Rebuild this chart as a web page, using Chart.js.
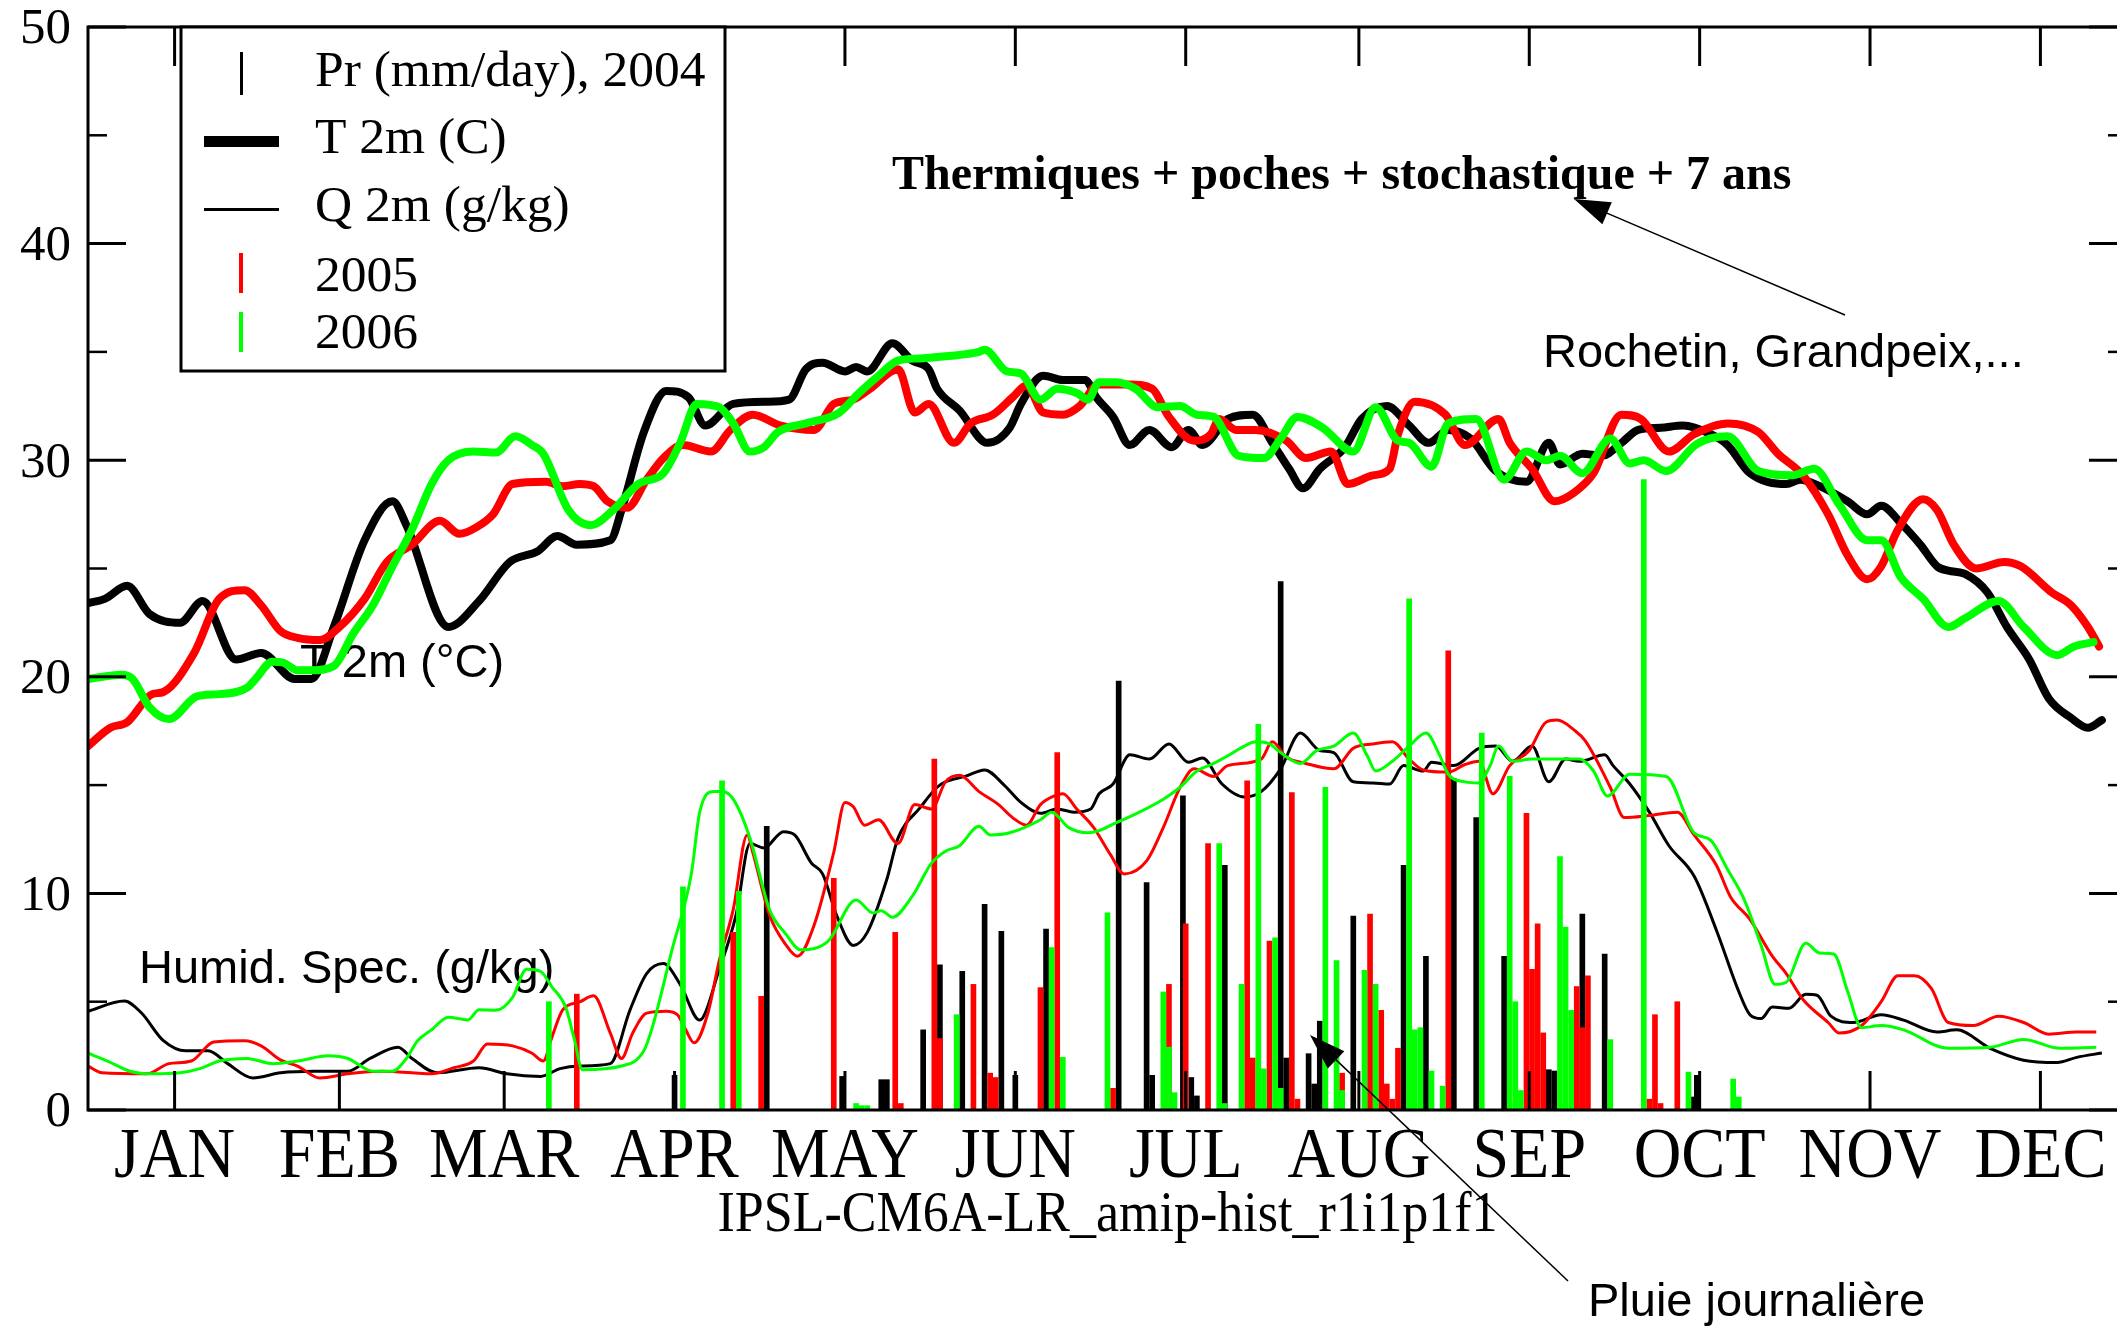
<!DOCTYPE html>
<html>
<head>
<meta charset="utf-8">
<script src="https://cdn.jsdelivr.net/npm/chart.js@4.4.1/dist/chart.umd.min.js"></script>
<style>
  html, body { margin: 0; padding: 0; background: #fff; overflow: hidden; }
  #wrap { width: 2130px; height: 1330px; }
</style>
</head>
<body>
<div id="wrap"><canvas id="c" width="2130" height="1330"></canvas></div>
<script>
// day-of-year axis, ticks at mid month
const months = ['JAN', 'FEB', 'MAR', 'APR', 'MAY', 'JUN', 'JUL', 'AUG', 'SEP', 'OCT', 'NOV', 'DEC'];
const monthMid = [15.5, 45, 74.5, 105, 135.5, 166, 196.5, 227.5, 258, 288.5, 319, 349.5];
const yLabels = [0, 10, 20, 30, 40, 50];

// 2m temperature (C), [day, value]
const t2004 = [[0,23.4],[3,23.6],[7,24.2],[11,22.9],[16.5,22.5],[20.5,23.5],[26.5,20.8],[31,21.1],[37,19.9],[40,19.9],[44,22.3],[49.5,26.3],[54.5,28.1],[57,27.0],[64.5,22.3],[70,23.5],[75.5,25.3],[80.5,25.8],[84,26.5],[87.5,26.1],[93.5,26.3],[95.5,27.7],[99.5,31.3],[103.5,33.2],[107.5,32.9],[110.5,31.6],[115.5,32.6],[121.5,32.7],[125.5,32.8],[128.5,34.2],[131.5,34.5],[135.5,34.1],[137.5,34.3],[139.5,34.1],[144,35.4],[147.5,34.6],[150.5,34.2],[152,33.3],[156,32.3],[161,30.8],[165,31.5],[167,32.6],[171,33.9],[174.5,33.7],[178.5,33.7],[180.5,32.9],[183.5,32.0],[186.5,30.7],[190,31.4],[194,30.6],[197,31.4],[199.5,30.7],[204,31.9],[208.5,32.1],[212,30.8],[215,29.6],[217.5,28.7],[220.5,29.6],[225,30.6],[228,31.9],[232.5,32.5],[236.5,31.6],[240,30.8],[243.5,31.4],[247.5,31.0],[252,29.5],[257.5,29.0],[261.5,30.8],[263.5,29.8],[267.5,30.3],[271,30.2],[274.5,30.8],[277.5,31.4],[281.5,31.5],[285.5,31.6],[290.5,31.2],[293.5,30.7],[297.5,29.4],[304,28.9],[306.5,29.1],[310,28.8],[315,28.1],[318.5,27.5],[321,27.9],[324.5,27.1],[328,26.1],[331,25.1],[333,24.9],[336,24.75],[340,23.9],[343.5,22.3],[347.5,20.8],[351,19.0],[355,18.1],[358,17.65],[360.5,18.0]];
const t2005 = [[0,16.8],[4,17.65],[7,17.9],[11.5,19.2],[13.5,19.3],[19,21.1],[23.5,23.6],[28,24.0],[31,23.3],[34.5,22.1],[37.5,21.8],[41.5,21.7],[45,22.3],[49.5,23.6],[53.5,25.3],[58,26.1],[63,27.2],[66.5,26.6],[69.5,26.9],[72.5,27.5],[76,28.9],[82,29.0],[85,28.8],[88,28.9],[90.5,28.8],[93,28.1],[96.5,27.8],[100,29.1],[103,30.1],[106.5,30.7],[111.5,30.4],[115,31.4],[119,32.1],[124,31.6],[130,31.4],[133.5,32.6],[137,32.8],[140,33.3],[145,34.2],[148,32.2],[150.5,32.6],[155,30.8],[158,31.7],[162,32.1],[165.5,32.9],[168,33.45],[171,32.2],[174.5,32.1],[177.5,32.5],[181,33.5],[186.5,33.5],[190.5,33.3],[193.5,32.0],[198,30.9],[201,31.2],[202.5,31.9],[205.5,31.4],[209,31.4],[214.5,30.9],[218,30.1],[222.5,30.4],[225.5,28.9],[230,29.3],[233,29.6],[234.5,31.2],[237.5,32.7],[243,32.1],[246.5,30.7],[252.5,31.9],[254.5,30.8],[258.5,29.6],[262.5,28.1],[266,28.5],[269.5,29.4],[274.5,32.1],[278,31.9],[283,30.4],[287.5,31.2],[293.5,31.7],[299,31.3],[302.5,30.3],[307,29.3],[311.5,27.5],[315,25.6],[318.5,24.5],[321,25.1],[324,26.8],[328.5,28.2],[331,27.7],[334,26.1],[338,25.0],[343,25.3],[346,25.1],[351.5,23.9],[355,23.3],[358,22.3],[360,21.4]];
const t2006 = [[0,19.9],[6,20.1],[8,19.9],[11,18.6],[14.5,18.05],[19.5,19.1],[23.5,19.2],[28.5,19.5],[30,19.9],[33,20.7],[35,20.65],[37.5,20.3],[40,20.3],[44,20.5],[47.5,22.0],[51,23.3],[54.5,25.1],[58,26.8],[61.5,28.9],[64.5,30.0],[69,30.4],[73,30.35],[76.5,31.1],[79.5,30.7],[81.5,30.3],[86,27.7],[90,27.0],[94,27.7],[98.5,28.9],[103,29.4],[106,30.8],[109,32.6],[113,32.45],[115.5,31.7],[118.5,30.4],[121,30.6],[123.5,31.3],[128.5,31.7],[134.5,32.2],[138,33.1],[141.5,33.9],[145,34.6],[149,34.7],[153.5,34.8],[159.5,35.0],[160.5,35.1],[164.5,34.1],[167,34.0],[170.5,32.8],[173.5,33.3],[177,33.1],[179,32.8],[181,33.6],[184,33.6],[187.5,33.3],[191.5,32.45],[195.5,32.5],[198.5,32.1],[201.5,32.0],[206,30.2],[210.5,30.1],[213.5,31.0],[216.5,32.0],[221,31.5],[226.5,30.4],[230.5,32.45],[234.5,30.9],[236.5,30.8],[240.5,29.7],[243.5,31.7],[248.5,31.9],[253.5,29.1],[257.5,30.4],[261,30.0],[263.5,30.2],[267.5,29.4],[272.5,31.0],[276,29.85],[278.5,30.0],[282.5,29.5],[288,30.75],[293.5,31.1],[299,29.5],[305,29.3],[309,29.6],[313.5,27.95],[318.5,26.3],[321,26.3],[324.5,24.6],[328.5,23.6],[333,22.3],[336,22.7],[342,23.5],[346.5,22.3],[352.5,21.0],[355.5,21.4],[359,21.6]];

// 2m specific humidity (g/kg), [day, value]
const q2004 = [[0,4.56],[6.5,5.03],[9.5,4.5],[13.5,3.2],[17.5,2.73],[21.5,2.73],[25,2.14],[29.5,1.48],[34.5,1.72],[40.5,1.79],[46.5,1.79],[50.5,2.38],[55.5,2.9],[58,2.38],[62.5,1.72],[70,1.95],[75,1.67],[81,1.55],[84.5,1.91],[88,2.03],[93.5,2.14],[97,4.6],[100,6.3],[103,6.76],[106,5.8],[109.5,4.15],[113,6.5],[116,9.0],[118.5,12.3],[121,12.1],[124.5,12.85],[126.5,12.7],[129.5,11.4],[131.5,10.9],[134,9.0],[137,7.6],[139.5,8.2],[143,10.65],[145,12.55],[149,13.97],[152,14.9],[153.5,15.15],[157,15.4],[160.5,15.7],[164,15.0],[167,14.2],[170.5,13.7],[173.5,13.9],[176.5,13.75],[179.5,13.9],[181,14.6],[183.5,15.05],[186.5,16.4],[190,16.2],[193.5,16.9],[197,16.05],[199.5,16.25],[203,15.05],[207,14.45],[210,14.7],[213.5,15.75],[217,17.4],[220.5,16.6],[223,16.5],[226.5,15.15],[230,15.1],[233,15.05],[235.5,15.9],[239,15.65],[240.5,16.05],[244.5,15.9],[249,16.7],[252,16.8],[255,16.1],[258.5,16.8],[261.5,15.15],[264.5,16.2],[267,16.1],[271.5,16.4],[273,15.9],[276,15.05],[279.5,13.75],[283,12.2],[287.5,10.8],[291.5,8.3],[295.5,5.47],[297.5,4.4],[299.5,4.22],[301.5,4.75],[304.5,4.7],[307.5,5.34],[309.5,5.3],[312,4.33],[316,4.04],[321,4.4],[325,4.15],[331,3.6],[334.5,3.7],[340.5,2.85],[346.5,2.3],[352.5,2.19],[356,2.43],[360.5,2.63]];
const q2005 = [[0,2.03],[2.5,1.72],[10.5,1.67],[14.5,2.14],[18.5,2.26],[22.5,3.14],[28,3.2],[31,2.96],[34.5,2.3],[37.5,2.03],[41.5,1.48],[46.5,1.67],[52.5,1.79],[58,1.72],[61.5,1.67],[65.5,1.95],[69,2.26],[71.5,3.05],[76,2.96],[79.5,2.62],[81.5,2.26],[83,3.33],[85,4.63],[88,4.99],[90.5,5.27],[93.5,3.55],[95.5,2.38],[97.5,3.55],[100,4.47],[103.5,4.56],[105.5,4.4],[107,3.7],[108.5,3.1],[111,4.5],[113,6.9],[115.5,9.25],[118,12.7],[119,11.9],[122,9.0],[125,7.6],[127,7.1],[130,8.55],[133.5,11.9],[135.5,14.2],[137,14.0],[139,13.15],[141.5,13.4],[145,12.3],[148,14.1],[151,13.9],[153.5,15.15],[156,15.45],[159.5,14.7],[163,14.1],[165.5,13.5],[168,13.15],[170.5,14.1],[173,14.5],[174.5,14.6],[177,13.9],[180,13.05],[183,11.8],[185.5,10.9],[189.5,11.5],[192.5,13.05],[195.5,14.9],[198,15.75],[201.5,15.4],[204,15.9],[210,16.2],[212,17.0],[214.5,16.3],[218,16.0],[223,15.75],[226.5,16.7],[230,16.9],[233.5,17.0],[236.5,16.2],[239,15.7],[243.5,15.6],[246.5,15.95],[249,16.1],[251.5,14.6],[254.5,15.9],[258,16.6],[261,17.9],[263,18.0],[266,17.55],[268,17.05],[272.5,14.9],[275,13.5],[279.5,13.6],[284.5,13.75],[287.5,12.7],[291.5,11.3],[294,9.85],[297.5,8.8],[301.5,7.1],[304,6.3],[307,5.1],[311.5,4.04],[313.5,3.55],[317.5,3.9],[321,5.0],[324,6.2],[327,6.2],[330,5.6],[333,4.04],[337.5,3.9],[342,4.33],[346.5,4.04],[351,3.5],[356,3.6],[359.5,3.6]];
const q2006 = [[0,2.62],[3.5,2.26],[7.5,1.79],[11.5,1.67],[16.5,1.72],[20,1.91],[23.5,2.26],[28.5,2.38],[33,2.14],[37.5,2.26],[43,2.5],[46.5,2.38],[51,1.79],[54.5,1.79],[57,2.38],[59,3.2],[61.5,3.7],[64.5,4.28],[68,4.16],[70,4.63],[73,4.6],[76,5.2],[78.5,6.5],[81,6.4],[83,5.7],[85.5,4.75],[87,3.33],[88.5,1.86],[95.5,2.03],[99.5,2.73],[101,3.8],[104.5,7.35],[108,10.9],[109.5,13.75],[112,14.7],[113.5,14.7],[115.5,14.35],[118.5,12.55],[122,9.25],[125,8.1],[127.5,7.4],[132.5,7.8],[137.5,9.7],[140.5,9.1],[142,9.2],[144,8.9],[147.5,9.85],[151,11.4],[153.5,11.95],[156,12.2],[159.5,13.1],[161.5,12.7],[165,12.8],[170.5,13.4],[172.5,13.75],[175.5,13.05],[179,12.8],[181,12.9],[183.5,13.2],[187,13.6],[192.5,14.35],[195.5,14.9],[198.5,15.65],[201.5,16.0],[204,16.35],[207,16.8],[209,17.0],[211.5,16.9],[213.5,16.5],[217,16.0],[220,16.6],[223,16.8],[226.5,17.4],[229,16.35],[230.5,15.65],[233.5,16.1],[236.5,16.8],[239.5,17.4],[242,16.35],[243.5,15.5],[246.5,15.15],[249,15.1],[251,15.9],[252.5,16.8],[255,16.1],[258.5,16.2],[263,16.2],[267,16.2],[269.5,15.65],[272,14.5],[276,15.5],[282.5,15.4],[287.5,12.8],[290.5,12.45],[293.5,11.1],[296.5,9.7],[299.5,7.6],[302,5.8],[304,5.9],[307.5,7.7],[310,7.25],[312.5,7.2],[315,5.47],[317.5,3.8],[321,3.9],[325,3.7],[333,2.85],[340.5,2.9],[346.5,3.26],[353,2.85],[359.5,2.9]];

// daily precipitation (mm/day), [day, value]
const pr2004 = [[105,1.6],[121.5,13.1],[135,1.55],[142,1.4],[143,1.4],[149.5,3.7],[152.5,6.7],[156.5,6.4],[160.5,9.5],[163.5,8.25],[166,1.6],[171.5,8.35],[184.5,19.8],[189.5,10.5],[190.5,1.6],[196,14.5],[197.5,1.5],[198.5,0.65],[203.5,11.3],[213.5,24.4],[214.5,2.4],[218.5,2.6],[219.5,1.2],[220.5,4.1],[226.5,8.95],[235.5,11.3],[239.5,7.1],[244.5,15.3],[248.5,13.5],[253.5,7.1],[261.5,1.86],[262.5,1.8],[267.5,9.05],[271.5,7.2],[287,0.6],[288,1.6]];
const pr2005 = [[87.5,5.35],[115.5,8.2],[120.5,5.25],[133.5,10.7],[144.5,8.2],[145.5,0.3],[151.5,16.2],[152.5,3.3],[158.5,5.8],[161.5,1.7],[162.5,1.5],[170.5,5.65],[173.5,16.5],[183.5,1.0],[193.5,5.8],[196.5,8.6],[200.5,12.3],[207.5,15.2],[208.5,2.4],[211.5,7.8],[215.5,14.65],[216.5,0.5],[224.5,1.7],[229.5,9.05],[231.5,4.6],[232.5,1.2],[233.5,0.5],[234.5,2.85],[243.5,21.2],[257.5,13.7],[258.5,6.5],[259.5,8.6],[260.5,3.56],[266.5,5.7],[267.5,3.8],[268.5,6.2],[279.5,0.5],[280.5,4.4],[281.5,0.3],[284.5,5.0]];
const pr2006 = [[82.5,5.0],[106.5,10.3],[113.5,15.2],[116.5,10.1],[137.5,0.3],[138.5,0.2],[139.5,0.2],[155.5,4.4],[172.5,7.5],[174.5,2.43],[182.5,9.1],[192.5,5.45],[193.5,2.9],[194.5,0.8],[202.5,12.3],[203.5,0.3],[206.5,5.8],[209.5,17.8],[210.5,1.9],[212.5,7.95],[213.5,1.0],[221.5,14.9],[223.5,6.9],[224.5,0.9],[228.5,6.45],[230.5,5.8],[236.5,23.6],[237.5,3.7],[238.5,3.8],[240.5,1.8],[242.5,1.1],[249.5,17.4],[254.5,15.4],[255.5,5.0],[256.5,0.9],[263.5,11.7],[264.5,8.45],[265.5,4.6],[272.5,3.25],[278.5,29.1],[286.5,1.75],[294.5,1.43],[295.5,0.6]];

const legendLabels = ['Pr (mm/day), 2004', 'T 2m (C)', 'Q 2m (g/kg)', '2005', '2006'];

const BLACK = '#000000';
const RED = '#ff0000';
const GREEN = '#00ff00';
const SERIF = '"Liberation Serif", "Times New Roman", serif';
const SANS = '"Liberation Sans", Arial, sans-serif';

const xy = arr => arr.map(p => ({ x: p[0], y: p[1] }));

function tempSet(label, data, color, order) {
  return {
    type: 'line', label, data: xy(data), order,
    borderColor: color, borderWidth: 8, pointRadius: 0,
    cubicInterpolationMode: 'monotone',
    borderJoinStyle: 'round', borderCapStyle: 'round', fill: false
  };
}
function humSet(label, data, color, order) {
  return {
    type: 'line', label, data: xy(data), order,
    borderColor: color, borderWidth: 3, pointRadius: 0,
    cubicInterpolationMode: 'monotone', borderJoinStyle: 'round', fill: false
  };
}
function rainSet(label, data, color, order) {
  return {
    type: 'bar', label, data: xy(data), order,
    backgroundColor: color, borderWidth: 0,
    barThickness: 5, grouped: false
  };
}

function line(ctx, x0, y0, x1, y1) {
  ctx.beginPath();
  ctx.moveTo(x0, y0);
  ctx.lineTo(x1, y1);
  ctx.stroke();
}

function arrow(ctx, x0, y0, x1, y1) {
  const ang = Math.atan2(y1 - y0, x1 - x0);
  const len = 36, half = 12;
  ctx.lineWidth = 1.5;
  line(ctx, x0, y0, x1 - Math.cos(ang) * len * 0.8, y1 - Math.sin(ang) * len * 0.8);
  ctx.beginPath();
  ctx.moveTo(x1, y1);
  ctx.lineTo(x1 - Math.cos(ang) * len - Math.sin(ang) * half, y1 - Math.sin(ang) * len + Math.cos(ang) * half);
  ctx.lineTo(x1 - Math.cos(ang) * len + Math.sin(ang) * half, y1 - Math.sin(ang) * len - Math.cos(ang) * half);
  ctx.closePath();
  ctx.fill();
}

function tallText(ctx, text, x, y, font, sy, align) {
  ctx.save();
  ctx.font = font;
  ctx.textAlign = align;
  ctx.textBaseline = 'alphabetic';
  ctx.translate(x, y);
  ctx.scale(1, sy);
  ctx.fillText(text, 0, 0);
  ctx.restore();
}

const decorations = {
  id: 'decorations',
  beforeDatasetsDraw(chart) {
    const ctx = chart.ctx;
    ctx.save();
    ctx.fillStyle = BLACK;
    ctx.font = '47px ' + SANS;
    ctx.textBaseline = 'alphabetic';
    ctx.fillText('T 2m (\u00b0C)', 300, 677);
    ctx.fillText('Humid. Spec. (g/kg)', 139, 983);
    ctx.restore();
  },
  afterDatasetsDraw(chart) {
    const { ctx, chartArea: a } = chart;
    const sx = chart.scales.x, sy = chart.scales.y;
    ctx.save();
    ctx.strokeStyle = BLACK;
    ctx.fillStyle = BLACK;
    ctx.lineWidth = 3;
    ctx.strokeRect(a.left, a.top, a.right - a.left, a.bottom - a.top);

    // inward ticks on all four sides
    monthMid.forEach(m => {
      const px = sx.getPixelForValue(m);
      line(ctx, px, a.bottom, px, a.bottom - 39);
      line(ctx, px, a.top, px, a.top + 39);
    });
    for (let v = 0; v <= 50; v += 5) {
      const py = sy.getPixelForValue(v);
      const len = v % 10 === 0 ? 38 : 19;
      ctx.lineWidth = v % 10 === 0 ? 3 : 2.5;
      line(ctx, a.left, py, a.left + len, py);
      line(ctx, a.right, py, a.right - len, py);
    }

    // tick labels
    ctx.font = '51px ' + SERIF;
    ctx.textAlign = 'right';
    ctx.textBaseline = 'middle';
    yLabels.forEach(v => ctx.fillText(String(v), 71, sy.getPixelForValue(v) + 3));
    months.forEach((m, i) => {
      tallText(ctx, m, sx.getPixelForValue(monthMid[i]), 1177, '66px ' + SERIF, 1.1, 'center');
    });
    tallText(ctx, 'IPSL-CM6A-LR_amip-hist_r1i1p1f1', (a.left + a.right) / 2, 1231, '52px ' + SERIF, 1.1, 'center');

    // legend box
    ctx.fillStyle = '#fff';
    ctx.fillRect(181, 27, 544, 344);
    ctx.lineWidth = 3;
    ctx.strokeRect(181, 27, 544, 344);
    ctx.fillStyle = BLACK;
    ctx.font = '51.5px ' + SERIF;
    ctx.textAlign = 'left';
    ctx.textBaseline = 'alphabetic';
    const rowBase = [86, 153, 221, 291, 348];
    legendLabels.forEach((t, i) => ctx.fillText(t, 315, rowBase[i]));
    ctx.fillRect(240, 52, 3, 43);
    ctx.fillRect(204, 136, 75, 11);
    ctx.fillRect(204, 208, 75, 3);
    ctx.fillStyle = RED;
    ctx.fillRect(239, 253, 4, 40);
    ctx.fillStyle = GREEN;
    ctx.fillRect(239, 312, 4, 40);

    // annotations
    ctx.fillStyle = BLACK;
    ctx.font = 'bold 48px ' + SERIF;
    ctx.fillText('Thermiques + poches + stochastique + 7 ans', 892, 189);
    ctx.font = '47px ' + SANS;
    ctx.fillText('Rochetin, Grandpeix,...', 1543, 367);
    ctx.fillText('Pluie journali\u00e8re', 1588, 1316);
    arrow(ctx, 1845, 315, 1574, 199);
    arrow(ctx, 1568, 1281, 1310, 1035);
    ctx.restore();
  }
};

new Chart(document.getElementById('c'), {
  type: 'line',
  data: {
    datasets: [
      rainSet('Pr (mm/day), 2004', pr2004, BLACK, 9),
      tempSet('T 2m (C)', t2004, BLACK, 8),
      humSet('Q 2m (g/kg)', q2004, BLACK, 7),
      rainSet('2005', pr2005, RED, 6),
      tempSet('T 2m 2005', t2005, RED, 5),
      humSet('Q 2m 2005', q2005, RED, 4),
      rainSet('2006', pr2006, GREEN, 3),
      tempSet('T 2m 2006', t2006, GREEN, 2),
      humSet('Q 2m 2006', q2006, GREEN, 1)
    ]
  },
  options: {
    responsive: false,
    devicePixelRatio: 1,
    animation: false,
    layout: { padding: { left: 88, top: 27, right: 3, bottom: 220 } },
    scales: {
      x: { type: 'linear', min: 0, max: 365, offset: false, display: false },
      y: { type: 'linear', min: 0, max: 50, display: false }
    },
    plugins: { legend: { display: false }, tooltip: { enabled: false } }
  },
  plugins: [decorations]
});
</script>
</body>
</html>
